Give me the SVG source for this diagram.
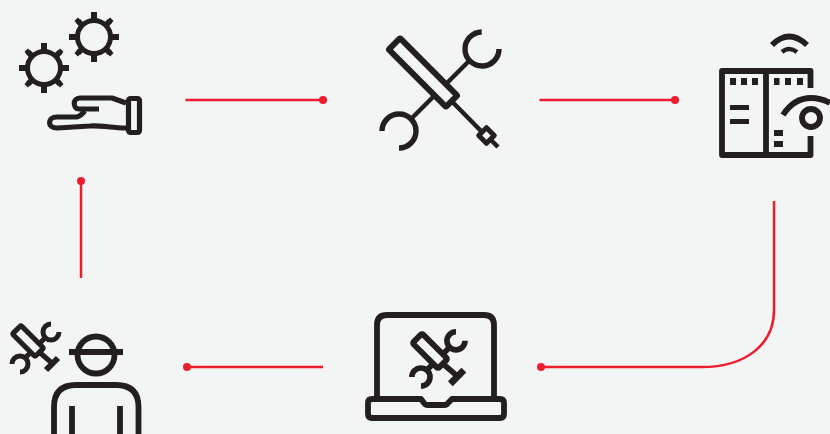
<svg xmlns="http://www.w3.org/2000/svg" xmlns:xlink="http://www.w3.org/1999/xlink" width="830" height="434" viewBox="0 0 830 434">
<style>
.i{fill:none;stroke:#231f20;stroke-width:5.8;stroke-linejoin:round}
.t{fill:none;stroke:#231f20;stroke-width:4.5}
.f{fill:#231f20;stroke:none}
.c{fill:none;stroke:#ed1c2e;stroke-width:2.5;marker-end:url(#dot)}
</style>
<defs>
<marker id="dot" markerUnits="userSpaceOnUse" markerWidth="10" markerHeight="10" refX="5" refY="5"><circle cx="5" cy="5" r="4" fill="#ed1c2e"/></marker>
<g id="gear">
<circle class="i" style="stroke-width:5" r="16.5"/>
<path class="t" style="stroke-width:6" d="M0-25V-17M0 25V17M-25 0H-17M25 0H17M-17.500-14L-14-17.500M17.500-14L14-17.500M-17.500 14L-14 17.500M17.500 14L14 17.500M-16-16L-12-12M16-16L12-12M-16 16L-12 12M16 16L12 12"/>
</g>
<g id="mini">
<rect class="i" style="stroke-width:5.200" x="-16" y="-6" width="32" height="12" rx="1.500" transform="rotate(45)"/>
<path class="t" style="stroke-width:5" d="M11 3L18 -4M3 11L-3 17M10 10L25 23"/>
<path class="t" style="stroke-width:5" d="M23 -17A8 8 0 1 0 31 -9M-16 23A8 8 0 1 1 -8 31"/>
<path class="t" style="stroke-width:6" d="M18 29L30 17"/>
</g>
</defs>
<rect width="830" height="434" fill="#f3f5f4"/>
<g id="connectors">
<path class="c" d="M185.500 100H323"/>
<path class="c" d="M539.500 100H675"/>
<path class="c" d="M774 201V310C774 345 745 367 702 367H541"/>
<path class="c" d="M323 367H187"/>
<path class="c" d="M81 278V181"/>
</g>
<g id="node-gears-hand">
<use xlink:href="#gear" href="#gear" x="94" y="37"/>
<use xlink:href="#gear" href="#gear" x="44" y="68"/>
<path class="i" style="stroke-width:5.200" d="M99 109H79C73 109 72 98 80 98H112L126 103M126 128C112 128 100 125 90 126L57 128C47 128 47 117 57 117H76C80 117 82 114 85 111"/>
<rect class="i" style="stroke-width:5.200" x="128.500" y="98.500" width="11" height="34" rx="2"/>
</g>
<g id="node-tools">
<rect class="i" style="stroke-width:6;stroke-linejoin:miter" x="382.500" y="64.500" width="81" height="16" rx="1" transform="rotate(45 423 72.500)"/>
<path class="t" d="M452 101.500L481 131M470 60L446 84M436 94L412 118M491 140L498 147"/>
<path class="i" style="stroke-width:5.400" d="M481.700 32A17 17 0 1 0 499 49M382 131A17 17 0 1 1 399 148"/>
<rect class="i" style="stroke-width:5" x="481" y="130" width="11" height="11" transform="rotate(45 486.500 135.500)"/>
</g>
<g id="node-panel-eye">
<path class="i" d="M810.500 88V71H722V155H810.500V136M766 71V155"/>
<path class="f" d="M730 78h6v7h-6zM741 78h6v7h-6zM752 78h6v7h-6zM774 78h5.500v7H774zM785 78h6v7h-6zM797 78h6v7h-6zM730 105h19v5h-19zM730 119h19v5h-19zM774 130h9v6h-9zM774 141h9v6h-9z"/>
<path class="i" d="M783 115C790 104 800 98 811 98Q821 98 830 103"/>
<circle class="i" cx="811" cy="118" r="9"/>
<path class="i" d="M772 45Q789 28 807 45"/>
<path class="i" style="stroke-width:4.500" d="M782 52Q789 46 797 52"/>
</g>
<g id="node-worker">
<circle class="i" cx="96" cy="355" r="18.500"/>
<path class="i" d="M69 352H123M54 434V407Q54 385 76 385H116Q138.500 385 138.500 407V434M72 406V434M120 406V434"/>
<use xlink:href="#mini" href="#mini" transform="translate(28 341)"/>
</g>
<g id="node-laptop">
<path class="i" d="M377 397V325Q377 315 387 315H484Q494 315 494 325V397"/>
<path class="i" d="M421 399H372Q368 399 368 403V414Q368 418 372 418H500Q504 418 504 414V403Q504 399 500 399H452L448 403Q447 405 444 405H428Q425 405 424 403Z"/>
<use xlink:href="#mini" href="#mini" transform="translate(430 351) scale(1.13)"/>
</g>
</svg>
